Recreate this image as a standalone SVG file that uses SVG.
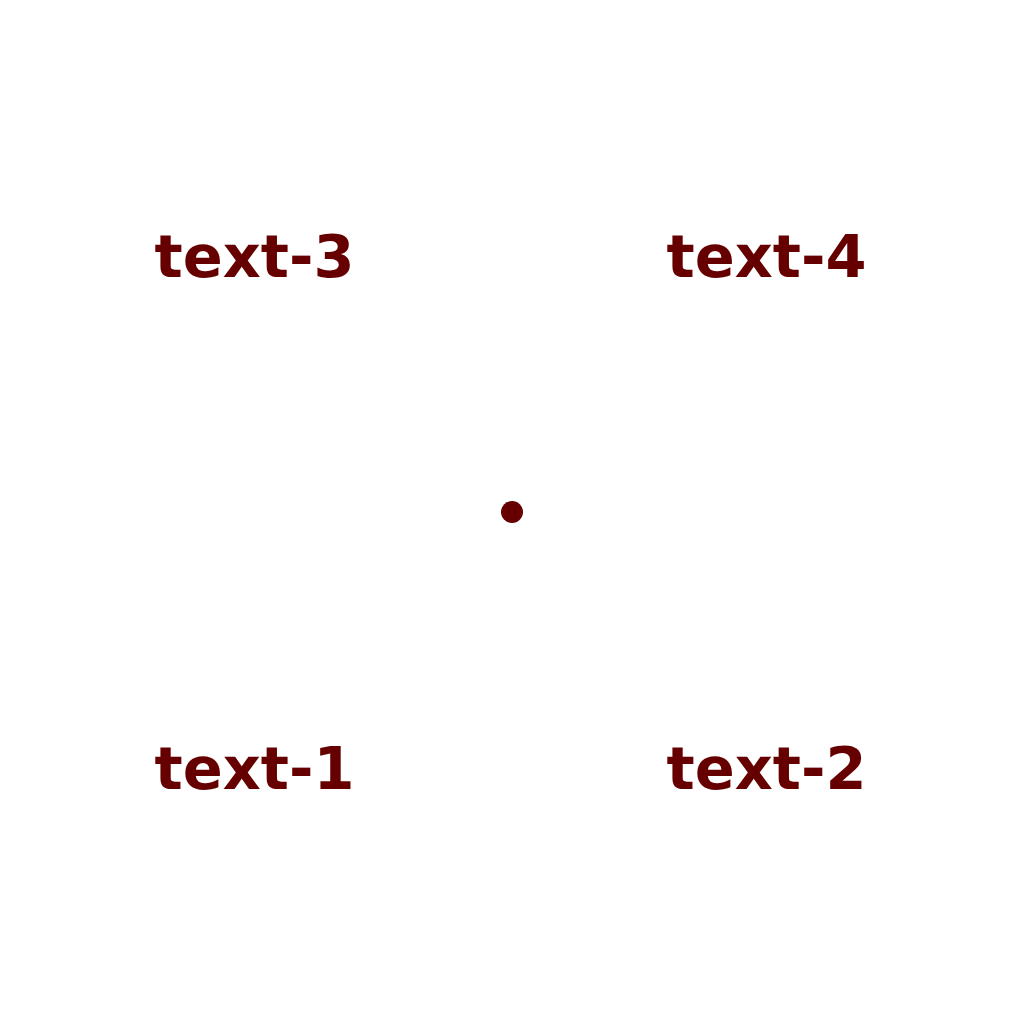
<svg xmlns="http://www.w3.org/2000/svg" width="1024" height="1024" viewBox="0 0 1024 1024">
<style>
.t{font-family:"DejaVu Sans",sans-serif;font-weight:bold;font-size:59px;fill:#660000;text-anchor:middle}
</style>
<rect width="1024" height="1024" fill="#ffffff"/>
<g id="text-3"><text class="t" x="254.5" y="277">text-3</text></g>
<g id="text-4"><text class="t" x="766.5" y="277">text-4</text></g>
<g id="text-1"><text class="t" x="254.5" y="789">text-1</text></g>
<g id="text-2"><text class="t" x="766.5" y="789">text-2</text></g>
<g id="center"><circle cx="512" cy="512" r="11" fill="#660000"/></g>
<g id="connectors"></g>
</svg>
